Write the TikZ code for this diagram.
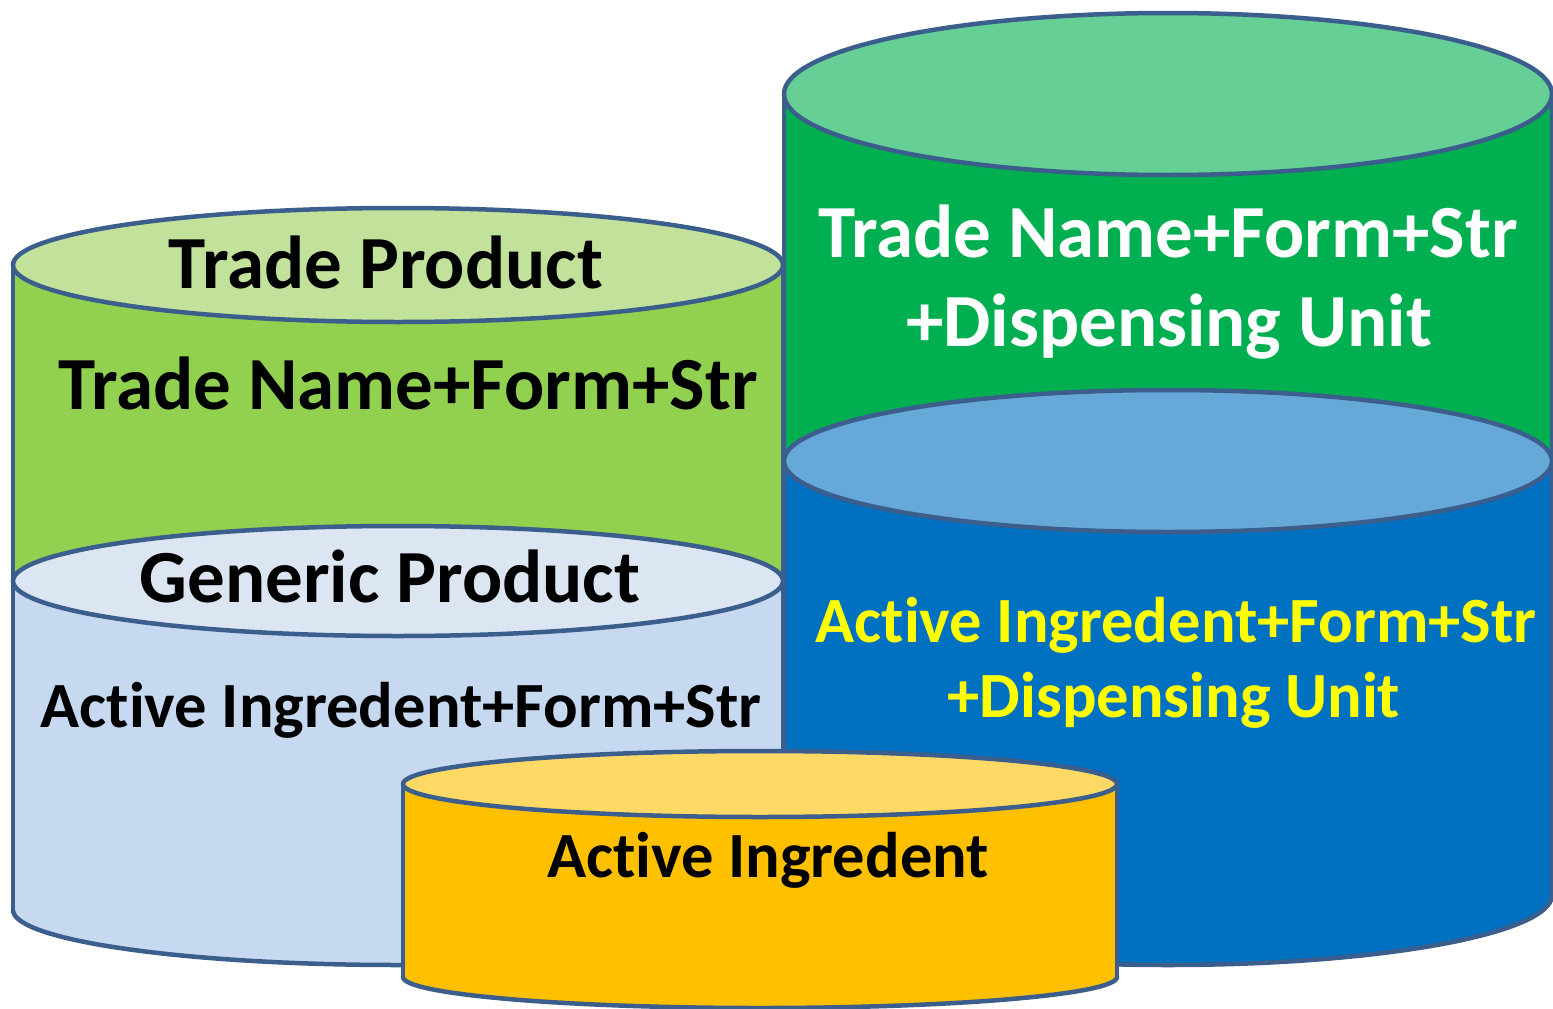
\documentclass[tikz,border=0pt]{standalone}
\usepackage{fontspec}
\setmainfont{Carlito}[Ligatures=NoCommon]
\definecolor{edge}{HTML}{3B5E8C}
\definecolor{gbody}{HTML}{92D050}
\definecolor{gtop}{HTML}{C2E29C}
\definecolor{lbbody}{HTML}{C6D9F0}
\definecolor{lbtop}{HTML}{DCE6F2}
\definecolor{dgbody}{HTML}{00B050}
\definecolor{dgtop}{HTML}{66CF96}
\definecolor{bbody}{HTML}{0070C0}
\definecolor{btop}{HTML}{66A9D9}
\definecolor{obody}{HTML}{FFC000}
\definecolor{otop}{HTML}{FFD966}
\definecolor{ytext}{HTML}{FFFF00}
% \mycyl{cx}{ytop}{rytop}{ybot}{rybot}{rx}{body}{top}
\newcommand{\mycyl}[8]{%
  \fill[#7] (#1-#6,#2) rectangle (#1+#6,#4);
  \fill[#7] (#1,#4) ellipse [x radius=#6, y radius=#5];
  \begin{scope}
    \clip (#1-#6-10,#4) rectangle (#1+#6+10,#4+#5+10);
    \draw[outl] (#1,#4) ellipse [x radius=#6, y radius=#5];
  \end{scope}
  \draw[outl] (#1-#6,#2) -- (#1-#6,#4);
  \draw[outl] (#1+#6,#2) -- (#1+#6,#4);
  \filldraw[outl,fill=#8] (#1,#2) ellipse [x radius=#6, y radius=#3];
}
\begin{document}
\begin{tikzpicture}[x=1pt,y=-1pt,
  outl/.style={draw=edge,line width=4.5pt,line cap=round,line join=round},
  big/.style={font=\fontsize{75}{89}\selectfont\bfseries,inner sep=0pt,anchor=base},
  mid/.style={font=\fontsize{64.5}{75}\selectfont\bfseries,inner sep=0pt,anchor=base}]
\fill[white] (0,0) rectangle (1553,1009);
\useasboundingbox (0,0) rectangle (1553,1009);
% left stack
\mycyl{398}{265}{57}{581}{57}{385}{gbody}{gtop}
\mycyl{398}{581}{55}{910}{55}{385}{lbbody}{lbtop}
% right stack
\mycyl{1168}{94}{81}{461}{71}{384}{dgbody}{dgtop}
\mycyl{1168}{461}{71}{895}{70}{384}{bbody}{btop}
% front
\mycyl{760}{784}{33}{977}{31}{357}{obody}{otop}
% texts
\node[big] (tp) at (386,288) {Trade Product};
\node[big] (tn) at (408,409) {Trade Name+Form+Str};
\node[big] (gp) at (390,602) {Generic Product};
\node[mid] (ai) at (401,727) {Active Ingredent+Form+Str};
\node[mid] (a0) at (768,877) {Active Ingredent};
\node[big,text=white] (rt1) at (1168,257) {Trade Name+Form+Str};
\node[big,text=white] (rt2) at (1169,346) {+Dispensing Unit};
\node[mid,text=ytext] (ry1) at (1176,642) {Active Ingredent+Form+Str};
\node[mid,text=ytext] (ry2) at (1174,717) {+Dispensing Unit};
\end{tikzpicture}
\end{document}
